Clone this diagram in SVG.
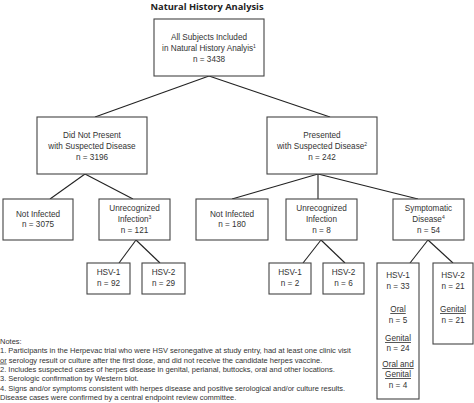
<svg xmlns="http://www.w3.org/2000/svg" width="474" height="403" viewBox="0 0 474 403">
<style>
.b{fill:#fff;stroke:#444;stroke-width:1.1}
.t{font-family:"Liberation Sans",Arial,sans-serif;font-size:8.2px;fill:#333;text-anchor:middle}
.s{font-size:5px}
.u{text-decoration:underline}
.c line{stroke:#222;stroke-width:1.1}
.n{font-family:"Liberation Sans",Arial,sans-serif;font-size:7.5px;fill:#333}
.h{font-family:"Open Sans","DejaVu Sans",sans-serif;font-size:9.3px;font-weight:bold;fill:#222;text-anchor:middle}
</style>
<rect width="474" height="403" fill="#fff"/>
<text class="h" x="207" y="10">Natural History Analysis</text>
<g class="c">
<line x1="209" y1="76" x2="95" y2="117"/>
<line x1="209" y1="76" x2="330" y2="117"/>
<line x1="85" y1="174" x2="50" y2="199"/>
<line x1="85" y1="174" x2="133" y2="199"/>
<line x1="318" y1="174" x2="232" y2="199"/>
<line x1="318" y1="174" x2="318" y2="199"/>
<line x1="318" y1="174" x2="418" y2="199"/>
<line x1="136" y1="240" x2="119" y2="263"/>
<line x1="136" y1="240" x2="160" y2="263"/>
<line x1="321" y1="240" x2="303" y2="263"/>
<line x1="321" y1="240" x2="345" y2="263"/>
<line x1="428" y1="240" x2="410" y2="263"/>
<line x1="428" y1="240" x2="453" y2="263"/>
</g>
<g id="all">
<rect class="b" x="154" y="19" width="110" height="57"/>
<text class="t" x="209" y="40">All Subjects Included</text>
<text class="t" x="209" y="51">in Natural History Analyis<tspan class="s" dy="-3">1</tspan></text>
<text class="t" x="209" y="62">n = 3438</text>
</g>
<g id="notpresent">
<rect class="b" x="37" y="117" width="110" height="57"/>
<text class="t" x="92" y="138">Did Not Present</text>
<text class="t" x="92" y="149">with Suspected Disease</text>
<text class="t" x="92" y="160">n = 3196</text>
</g>
<g id="presented">
<rect class="b" x="267" y="117" width="110" height="57"/>
<text class="t" x="322" y="138">Presented</text>
<text class="t" x="322" y="149">with Suspected Disease<tspan class="s" dy="-3">2</tspan></text>
<text class="t" x="322" y="160">n = 242</text>
</g>
<g id="notinf1">
<rect class="b" x="3" y="199" width="70" height="41"/>
<text class="t" x="38" y="217">Not Infected</text>
<text class="t" x="38" y="227">n = 3075</text>
</g>
<g id="unrec1">
<rect class="b" x="99" y="199" width="71" height="41"/>
<text class="t" x="134.5" y="211">Unrecognized</text>
<text class="t" x="134.5" y="222">Infection<tspan class="s" dy="-3">3</tspan></text>
<text class="t" x="134.5" y="233">n = 121</text>
</g>
<g id="notinf2">
<rect class="b" x="196" y="199" width="72" height="41"/>
<text class="t" x="232" y="217">Not Infected</text>
<text class="t" x="232" y="227">n = 180</text>
</g>
<g id="unrec2">
<rect class="b" x="286" y="199" width="71" height="41"/>
<text class="t" x="321.5" y="211">Unrecognized</text>
<text class="t" x="321.5" y="222">Infection</text>
<text class="t" x="321.5" y="233">n = 8</text>
</g>
<g id="sympt">
<rect class="b" x="393" y="199" width="71" height="41"/>
<text class="t" x="428.5" y="211">Symptomatic</text>
<text class="t" x="428.5" y="222">Disease<tspan class="s" dy="-3">4</tspan></text>
<text class="t" x="428.5" y="233">n = 54</text>
</g>
<g id="u1hsv1">
<rect class="b" x="87" y="263" width="43" height="31"/>
<text class="t" x="108.5" y="275">HSV-1</text>
<text class="t" x="108.5" y="286">n = 92</text>
</g>
<g id="u1hsv2">
<rect class="b" x="142" y="263" width="43" height="31"/>
<text class="t" x="163.5" y="275">HSV-2</text>
<text class="t" x="163.5" y="286">n = 29</text>
</g>
<g id="u2hsv1">
<rect class="b" x="269" y="263" width="42" height="31"/>
<text class="t" x="290" y="275">HSV-1</text>
<text class="t" x="290" y="286">n = 2</text>
</g>
<g id="u2hsv2">
<rect class="b" x="323" y="263" width="41" height="31"/>
<text class="t" x="343.5" y="275">HSV-2</text>
<text class="t" x="343.5" y="286">n = 6</text>
</g>
<g id="shsv1">
<rect class="b" x="377" y="263" width="42" height="136"/>
<text class="t" x="398" y="278">HSV-1</text>
<text class="t" x="398" y="289">n = 33</text>
<text class="t u" x="398" y="312">Oral</text>
<text class="t" x="398" y="323">n = 5</text>
<text class="t u" x="398" y="341">Genital</text>
<text class="t" x="398" y="351">n = 24</text>
<text class="t u" x="398" y="367">Oral and</text>
<text class="t u" x="398" y="377">Genital</text>
<text class="t" x="398" y="388">n = 4</text>
</g>
<g id="shsv2">
<rect class="b" x="433" y="263" width="40" height="81"/>
<text class="t" x="453" y="278">HSV-2</text>
<text class="t" x="453" y="289">n = 21</text>
<text class="t u" x="453" y="312">Genital</text>
<text class="t" x="453" y="323">n = 21</text>
</g>
<g id="notes">
<text class="n" x="0" y="344">Notes:</text>
<text class="n" x="0" y="353.3">1. Participants in the Herpevac trial who were HSV seronegative at study entry, had at least one clinic visit</text>
<text class="n" x="0" y="362.6"><tspan class="u">or</tspan> serology result or culture after the first dose, and did not receive the candidate herpes vaccine.</text>
<text class="n" x="0" y="371.9">2. Includes suspected cases of herpes disease in genital, perianal, buttocks, oral and other locations.</text>
<text class="n" x="0" y="381.2">3. Serologic confirmation by Western blot.</text>
<text class="n" x="0" y="390.5">4. Signs and/or symptoms consistent with herpes disease and positive serological and/or culture results.</text>
<text class="n" x="0" y="399.8">Disease cases were confirmed by a central endpoint review committee.</text>
</g>
</svg>
